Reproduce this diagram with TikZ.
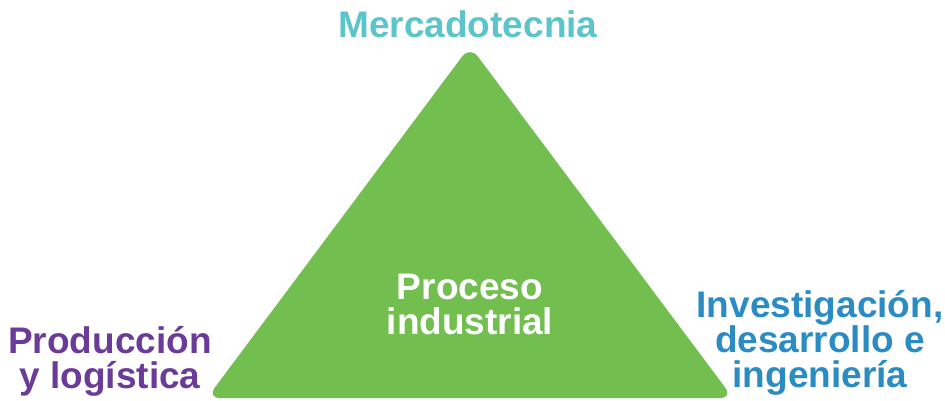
\documentclass[tikz,border=0pt]{standalone}
\usepackage{fontspec}
\setmainfont{Liberation Sans}
\definecolor{tri}{HTML}{72BF4F}
\definecolor{teal}{HTML}{5BC5CB}
\definecolor{purp}{HTML}{6A3B98}
\definecolor{blu}{HTML}{2B8CC4}
\begin{document}
\begin{tikzpicture}[x=1pt,y=-1pt,
  lbl/.style={font=\bfseries\fontsize{37}{35}\selectfont, align=center, anchor=base, inner sep=0pt}]
\useasboundingbox (0,0) rectangle (945,400);
\coordinate (apex) at (470,46);
\coordinate (bl) at (207,398);
\coordinate (br) at (733,398);
\fill[tri, rounded corners=13pt] (apex) -- (br) -- (bl) -- cycle;
\node[lbl, text=teal] (top) at (468,37) {Mercadotecnia};
\node[lbl, text=white] (mid) at (470,334) {Proceso\\industrial};
\node[lbl, text=purp] (left) at (110,388) {Producción\\y logística};
\node[lbl, text=blu] (right) at (820,387) {Investigación,\\desarrollo e\\ingeniería};
\end{tikzpicture}
\end{document}
